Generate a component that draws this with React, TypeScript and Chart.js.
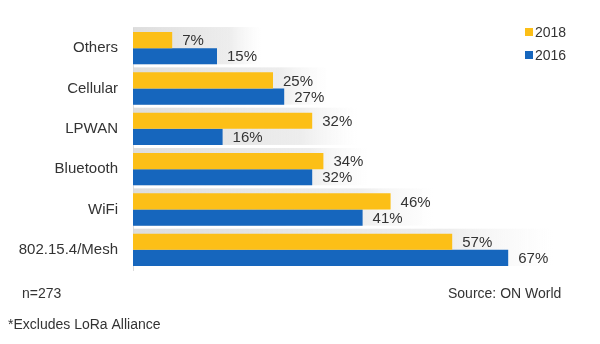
import React, { useEffect, useRef } from "react";
import { Chart, registerables } from "chart.js";

Chart.register(...registerables);

const categories = ["Others", "Cellular", "LPWAN", "Bluetooth", "WiFi", "802.15.4/Mesh"];
const values2018 = [7, 25, 32, 34, 46, 57];
const values2016 = [15, 27, 16, 32, 41, 67];
const seriesNames = ["2018", "2016"];
const noteSample = "n=273";
const noteSource = "Source: ON World";
const noteFootnote = "*Excludes LoRa Alliance";

const YELLOW = "#FCBF17";
const BLUE = "#1666BD";
const TEXT = "#333333";
const FONT = "'Liberation Sans', Arial, sans-serif";

const shadowPlugin = {
  id: "shadowBands",
  beforeDatasetsDraw(chart: any) {
    const ctx = chart.ctx;
    const m0 = chart.getDatasetMeta(0).data;
    const m1 = chart.getDatasetMeta(1).data;
    const left = chart.chartArea.left;
    ctx.save();
    for (let i = 0; i < m0.length; i++) {
      const a = m0[i];
      const b = m1[i];
      const top = a.y - a.height / 2 - 5;
      const bottom = b.y + b.height / 2;
      const end = Math.max(a.x, b.x) + 45;
      const g = ctx.createLinearGradient(left, 0, end, 0);
      g.addColorStop(0, "rgba(215,215,215,0.85)");
      g.addColorStop(0.75, "rgba(225,225,225,0.6)");
      g.addColorStop(1, "rgba(240,240,240,0)");
      ctx.fillStyle = g;
      ctx.fillRect(left, top, end - left, bottom - top);
    }
    ctx.restore();
  },
};

const labelPlugin = {
  id: "valueLabels",
  afterDatasetsDraw(chart: any) {
    const ctx = chart.ctx;
    ctx.save();
    ctx.font = `15px ${FONT}`;
    ctx.fillStyle = TEXT;
    ctx.textBaseline = "middle";
    ctx.textAlign = "left";
    chart.data.datasets.forEach((ds: any, di: number) => {
      const meta = chart.getDatasetMeta(di);
      meta.data.forEach((el: any, i: number) => {
        ctx.fillText(`${ds.data[i]}%`, el.x + 10, el.y + 1);
      });
    });
    ctx.restore();
  },
};

const notesPlugin = {
  id: "notes",
  afterDraw(chart: any) {
    const ctx = chart.ctx;
    ctx.save();
    ctx.textBaseline = "middle";
    ctx.textAlign = "left";
    // legend
    ctx.font = `14px ${FONT}`;
    const colors = [YELLOW, BLUE];
    const ys = [32, 55];
    seriesNames.forEach((name, i) => {
      ctx.fillStyle = colors[i];
      ctx.fillRect(525, ys[i] - 4, 8, 8);
      ctx.fillStyle = TEXT;
      ctx.fillText(name, 535, ys[i] + 1);
    });
    ctx.fillStyle = TEXT;
    ctx.fillText(noteSample, 22, 294);
    ctx.fillText(noteSource, 448, 294);
    ctx.fillText(noteFootnote, 8, 325);
    ctx.restore();
  },
};

export default function App() {
  const ref = useRef<HTMLCanvasElement | null>(null);
  useEffect(() => {
    if (!ref.current) return;
    const chart = new Chart(ref.current, {
      type: "bar",
      data: {
        labels: categories,
        datasets: [
          { label: seriesNames[0], data: values2018, backgroundColor: YELLOW, borderWidth: 0 },
          { label: seriesNames[1], data: values2016, backgroundColor: BLUE, borderWidth: 0 },
        ],
      },
      options: {
        indexAxis: "y",
        animation: false,
        responsive: false,
        maintainAspectRatio: false,
        layout: { padding: { top: 28, bottom: 74, left: 0, right: 47 } },
        datasets: { bar: { categoryPercentage: 0.8, barPercentage: 1 } },
        plugins: {
          legend: { display: false },
          tooltip: { enabled: false },
        },
        scales: {
          x: { display: false, min: 0, max: 75 },
          y: {
            grid: { display: false, drawTicks: false },
            border: { display: true, color: "#dcdcdc", width: 1 },
            ticks: { color: TEXT, font: { family: FONT, size: 15 }, padding: 15 },
            afterFit(axis: any) {
              axis.width = 133;
            },
          },
        },
      } as any,
      plugins: [shadowPlugin, labelPlugin, notesPlugin],
    });
    return () => chart.destroy();
  }, []);
  return (
    <div style={{ position: "fixed", left: 0, top: 0, width: 600, height: 344, background: "#fff" }}>
      <canvas ref={ref} width={600} height={344} style={{ width: 600, height: 344 }} />
    </div>
  );
}
